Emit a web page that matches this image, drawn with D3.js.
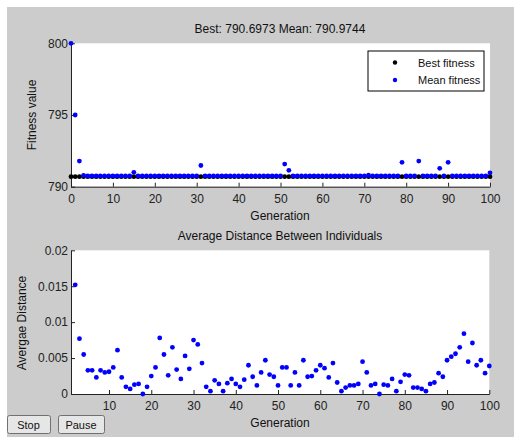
<!DOCTYPE html>
<html>
<head>
<meta charset="utf-8">
<script src="https://cdn.jsdelivr.net/npm/d3@7"></script>
<style>
  body { margin: 0; background: #fff; }
  svg { display: block; font-family: "Liberation Sans", Arial, sans-serif; }
  .tick text { fill: #222; font-size: 12px; }
  .tick line { stroke: #222; }
  .domain { stroke: #222; }
</style>
</head>
<body>
<svg></svg>
<script>
// Chart size
const width = 514;
const height = 439;

// Top plot: generations 0..100
const generations = d3.range(0, 101);
const bestFitness = generations.map(() => 790.6973);
const meanFitness = [
  800.0, 795.0, 791.79, 790.79, 790.75, 790.75, 790.75, 790.75, 790.75, 790.75,
  790.75, 790.75, 790.75, 790.75, 790.75, 791.0, 790.75, 790.75, 790.75, 790.75,
  790.75, 790.75, 790.75, 790.75, 790.75, 790.75, 790.75, 790.75, 790.75, 790.75,
  790.75, 791.48, 790.75, 790.75, 790.75, 790.75, 790.75, 790.75, 790.75, 790.75,
  790.75, 790.75, 790.75, 790.75, 790.75, 790.75, 790.75, 790.75, 790.75, 790.75,
  790.75, 791.58, 791.14, 790.75, 790.75, 790.75, 790.75, 790.75, 790.75, 790.75,
  790.75, 790.75, 790.75, 790.75, 790.75, 790.75, 790.75, 790.75, 790.75, 790.75,
  790.75, 790.8, 790.75, 790.75, 790.75, 790.75, 790.75, 790.75, 790.75, 791.7,
  790.75, 790.75, 790.75, 791.79, 790.75, 790.75, 790.75, 790.75, 791.28, 790.75,
  791.7, 790.75, 790.75, 790.75, 790.75, 790.75, 790.75, 790.75, 790.75, 790.75,
  790.97
];

// Bottom plot: generations 2..100
const distGenerations = d3.range(2, 101);
const avgDistance = [
  0.0152, 0.0077, 0.0055, 0.0033, 0.0033, 0.0023, 0.0033, 0.0030, 0.0031, 0.0037,
  0.0061, 0.0023, 0.0010, 0.0007, 0.0013, 0.0014, 0.0000, 0.0010, 0.0025, 0.0037,
  0.0078, 0.0055, 0.0026, 0.0065, 0.0034, 0.0021, 0.0053, 0.0035, 0.0075, 0.0069,
  0.0043, 0.0010, 0.0004, 0.0019, 0.0014, 0.0004, 0.0015, 0.0021, 0.0014, 0.0010,
  0.0020, 0.0040, 0.0024, 0.0012, 0.0030, 0.0047, 0.0027, 0.0024, 0.0012, 0.0037,
  0.0037, 0.0012, 0.0030, 0.0012, 0.0047, 0.0024, 0.0025, 0.0033, 0.0040, 0.0036,
  0.0023, 0.0043, 0.0016, 0.0004, 0.0009, 0.0012, 0.0012, 0.0014, 0.0045, 0.0030,
  0.0012, 0.0014, 0.0000, 0.0013, 0.0012, 0.0021, 0.0004, 0.0017, 0.0027, 0.0026,
  0.0009, 0.0009, 0.0007, 0.0004, 0.0014, 0.0016, 0.0029, 0.0024, 0.0047, 0.0052,
  0.0056, 0.0065, 0.0084, 0.0045, 0.0071, 0.0040, 0.0047, 0.0029, 0.0039
];

// Ticks
const genTicks = [0, 10, 20, 30, 40, 50, 60, 70, 80, 90, 100];
const distGenTicks = [10, 20, 30, 40, 50, 60, 70, 80, 90, 100];
const fitnessTicks = [790, 795, 800];
const distanceTicks = [0, 0.005, 0.01, 0.015, 0.02];
const distanceTickLabels = ["0", "0.005", "0.01", "0.015", "0.02"];

const legendItems = [
  { label: "Best fitness", color: "#000" },
  { label: "Mean fitness", color: "#0000ff" }
];

const svg = d3.select("svg")
  .attr("width", width)
  .attr("height", height);

// gray figure background
svg.append("rect")
  .attr("x", 7).attr("y", 7)
  .attr("width", width - 7).attr("height", 430)
  .attr("fill", "#cccccc");

// ---------- top plot ----------
const x1 = d3.scaleLinear().domain([0, 100]).range([71, 490]);
const y1 = d3.scaleLinear().domain([790, 800]).range([186.7, 43.3]);

svg.append("rect")
  .attr("x", x1.range()[0]).attr("y", y1.range()[1])
  .attr("width", x1.range()[1] - x1.range()[0])
  .attr("height", y1.range()[0] - y1.range()[1])
  .attr("fill", "#fff");

svg.append("g")
  .attr("transform", `translate(0,${y1.range()[0]})`)
  .call(d3.axisBottom(x1).tickValues(genTicks).tickSizeInner(-4).tickSizeOuter(0).tickPadding(8));

svg.append("g")
  .attr("transform", `translate(${x1.range()[0]},0)`)
  .call(d3.axisLeft(y1).tickValues(fitnessTicks).tickSizeInner(-4).tickSizeOuter(0).tickPadding(3));

svg.append("g")
  .selectAll("circle")
  .data(generations)
  .enter()
  .append("circle")
  .attr("cx", d => x1(d))
  .attr("cy", (d, i) => y1(bestFitness[i]))
  .attr("r", 2.4)
  .attr("fill", "#000");

svg.append("g")
  .selectAll("circle")
  .data(generations)
  .enter()
  .append("circle")
  .attr("cx", d => x1(d))
  .attr("cy", (d, i) => y1(meanFitness[i]))
  .attr("r", 2.4)
  .attr("fill", "#0000ff");

svg.append("text")
  .attr("x", 280).attr("y", 33)
  .attr("text-anchor", "middle")
  .attr("font-size", 12)
  .attr("fill", "#111")
  .text("Best: 790.6973 Mean: 790.9744");

svg.append("text")
  .attr("x", 280).attr("y", 220)
  .attr("text-anchor", "middle")
  .attr("font-size", 12)
  .attr("fill", "#111")
  .text("Generation");

svg.append("text")
  .attr("transform", "translate(36,115) rotate(-90)")
  .attr("text-anchor", "middle")
  .attr("font-size", 12)
  .attr("fill", "#111")
  .text("Fitness value");

// legend
const legend = svg.append("g");
legend.append("rect")
  .attr("x", 368).attr("y", 51)
  .attr("width", 116).attr("height", 40)
  .attr("fill", "#fff")
  .attr("stroke", "#000");

legendItems.forEach((item, i) => {
  legend.append("circle")
    .attr("cx", 395).attr("cy", 62.5 + i * 17.5)
    .attr("r", 2.2)
    .attr("fill", item.color);
  legend.append("text")
    .attr("x", 418).attr("y", 66.5 + i * 17.5)
    .attr("font-size", 11)
    .attr("fill", "#111")
    .text(item.label);
});

// ---------- bottom plot ----------
const x2 = d3.scaleLinear().domain([1, 100]).range([71, 489.3]);
const y2 = d3.scaleLinear().domain([0, 0.02]).range([394, 250.3]);

svg.append("rect")
  .attr("x", x2.range()[0]).attr("y", y2.range()[1])
  .attr("width", x2.range()[1] - x2.range()[0])
  .attr("height", y2.range()[0] - y2.range()[1])
  .attr("fill", "#fff");

svg.append("g")
  .attr("transform", `translate(0,${y2.range()[0]})`)
  .call(d3.axisBottom(x2).tickValues(distGenTicks).tickSizeInner(-4).tickSizeOuter(0).tickPadding(7));

svg.append("g")
  .attr("transform", `translate(${x2.range()[0]},0)`)
  .call(d3.axisLeft(y2).tickValues(distanceTicks)
    .tickFormat((d, i) => distanceTickLabels[i])
    .tickSizeInner(-4).tickSizeOuter(0).tickPadding(3));

svg.append("g")
  .selectAll("circle")
  .data(distGenerations)
  .enter()
  .append("circle")
  .attr("cx", d => x2(d))
  .attr("cy", (d, i) => y2(avgDistance[i]))
  .attr("r", 2.4)
  .attr("fill", "#0000ff");

svg.append("text")
  .attr("x", 280).attr("y", 240)
  .attr("text-anchor", "middle")
  .attr("font-size", 12)
  .attr("fill", "#111")
  .text("Average Distance Between Individuals");

svg.append("text")
  .attr("x", 280).attr("y", 427)
  .attr("text-anchor", "middle")
  .attr("font-size", 12)
  .attr("fill", "#111")
  .text("Generation");

svg.append("text")
  .attr("transform", "translate(26,323) rotate(-90)")
  .attr("text-anchor", "middle")
  .attr("font-size", 12)
  .attr("fill", "#111")
  .text("Avergae Distance");

// Stop / Pause buttons
const buttons = [
  { label: "Stop", x: 7, w: 43 },
  { label: "Pause", x: 58, w: 46 }
];
buttons.forEach(b => {
  svg.append("rect")
    .attr("x", b.x + 0.5).attr("y", 415.5)
    .attr("width", b.w).attr("height", 18)
    .attr("rx", 2)
    .attr("fill", "#e6e6e6")
    .attr("stroke", "#707070");
  svg.append("text")
    .attr("x", b.x + b.w / 2).attr("y", 428.5)
    .attr("text-anchor", "middle")
    .attr("font-size", 11)
    .attr("fill", "#111")
    .text(b.label);
});
</script>
</body>
</html>
